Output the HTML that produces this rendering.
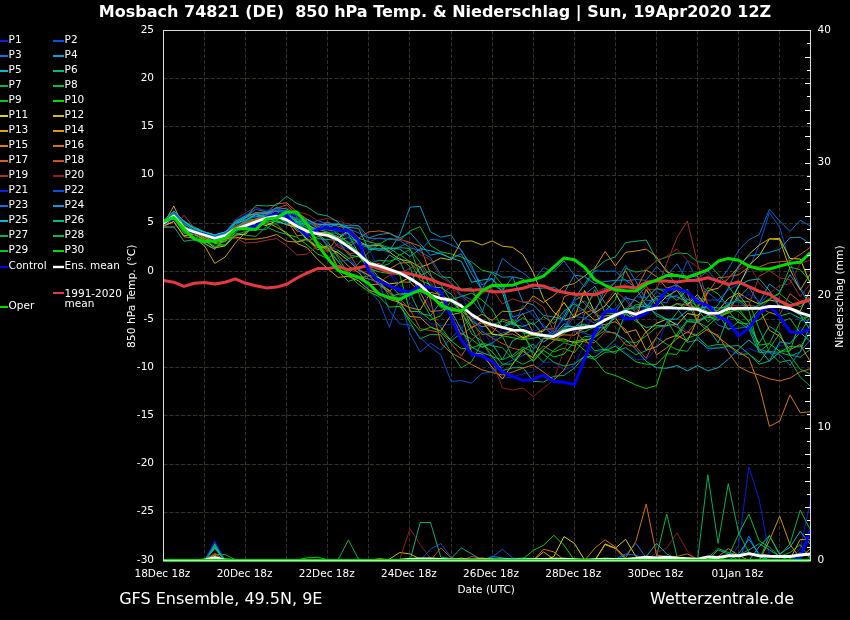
<!DOCTYPE html>
<html><head><meta charset="utf-8"><title>GFS Ensemble</title>
<style>
html,body{margin:0;padding:0;background:#000;}
svg{display:block;will-change:transform;}
text{font-family:"DejaVu Sans","Liberation Sans",sans-serif;fill:#fff;}
</style></head><body>
<svg width="850" height="620" viewBox="0 0 850 620">
<rect width="850" height="620" fill="#000"/>
<defs><clipPath id="c"><rect x="161.5" y="30.5" width="651.0" height="533.0"/></clipPath></defs>
<path d="M204.50 30.5V560.5M245.50 30.5V560.5M286.50 30.5V560.5M327.50 30.5V560.5M368.50 30.5V560.5M409.50 30.5V560.5M451.50 30.5V560.5M492.50 30.5V560.5M533.50 30.5V560.5M574.50 30.5V560.5M615.50 30.5V560.5M656.50 30.5V560.5M697.50 30.5V560.5M738.50 30.5V560.5M779.50 30.5V560.5M163.5 512.50H810.5M163.5 464.50H810.5M163.5 415.50H810.5M163.5 367.50H810.5M163.5 319.50H810.5M163.5 271.50H810.5M163.5 223.50H810.5M163.5 175.50H810.5M163.5 126.50H810.5M163.5 78.50H810.5" stroke="#323227" stroke-width="1" stroke-dasharray="4 1.9" fill="none"/>
<g clip-path="url(#c)" fill="none" stroke-linejoin="round" stroke-linecap="butt">
<polyline points="163.5,221.6 173.8,213.1 184.0,222.8 194.3,228.8 204.6,232.9 214.8,236.7 225.1,234.5 235.4,229.6 245.7,223.7 255.9,220.3 266.2,217.5 276.5,215.3 286.7,216.2 297.0,224.9 307.3,223.3 317.5,223.9 327.8,222.2 338.1,245.3 348.4,248.9 358.6,251.5 368.9,270.3 379.2,269.5 389.4,272.5 399.7,289.3 410.0,303.2 420.2,315.8 430.5,323.4 440.8,325.6 451.1,324.1 461.3,325.6 471.6,356.7 481.9,350.8 492.1,369.6 502.4,378.3 512.7,376.9 522.9,373.9 533.2,371.8 543.5,362.5 553.8,361.9 564.0,370.0 574.3,365.8 584.6,344.3 594.8,352.6 605.1,350.0 615.4,344.0 625.6,352.5 635.9,359.7 646.2,359.6 656.5,348.5 666.7,321.3 677.0,323.0 687.3,331.1 697.5,334.6 707.8,350.7 718.1,346.8 728.3,350.2 738.6,354.2 748.9,348.6 759.2,352.3 769.4,353.1 779.7,346.0 790.0,343.5 800.2,327.3 810.5,334.6" stroke="#0a1ee6" stroke-width="0.95"/>
<polyline points="163.5,221.1 173.8,211.2 184.0,221.6 194.3,228.3 204.6,232.7 214.8,236.4 225.1,233.0 235.4,223.4 245.7,221.0 255.9,212.7 266.2,212.8 276.5,215.9 286.7,210.9 297.0,224.2 307.3,224.0 317.5,231.1 327.8,245.7 338.1,250.5 348.4,257.6 358.6,269.7 368.9,290.0 379.2,301.5 389.4,327.3 399.7,297.1 410.0,333.5 420.2,352.1 430.5,343.2 440.8,350.0 451.1,337.9 461.3,328.2 471.6,316.5 481.9,331.8 492.1,337.0 502.4,333.2 512.7,329.7 522.9,305.4 533.2,315.9 543.5,325.1 553.8,332.1 564.0,330.5 574.3,316.5 584.6,317.8 594.8,323.2 605.1,310.7 615.4,308.9 625.6,296.0 635.9,312.8 646.2,308.2 656.5,291.3 666.7,298.8 677.0,295.2 687.3,305.5 697.5,297.8 707.8,300.2 718.1,299.9 728.3,290.2 738.6,283.8 748.9,269.0 759.2,245.0 769.4,212.6 779.7,227.3 790.0,262.9 800.2,288.0 810.5,300.0" stroke="#0055e6" stroke-width="0.95"/>
<polyline points="163.5,223.2 173.8,216.0 184.0,230.1 194.3,231.8 204.6,235.8 214.8,240.1 225.1,238.7 235.4,231.4 245.7,227.7 255.9,222.0 266.2,221.7 276.5,214.9 286.7,221.8 297.0,221.4 307.3,225.5 317.5,220.4 327.8,224.3 338.1,235.1 348.4,232.7 358.6,244.8 368.9,247.5 379.2,248.8 389.4,252.5 399.7,246.7 410.0,242.3 420.2,251.8 430.5,257.6 440.8,274.6 451.1,282.7 461.3,295.3 471.6,299.8 481.9,312.8 492.1,284.8 502.4,258.3 512.7,266.8 522.9,272.9 533.2,280.9 543.5,267.7 553.8,271.5 564.0,260.9 574.3,275.3 584.6,286.7 594.8,270.8 605.1,271.3 615.4,271.0 625.6,280.9 635.9,279.5 646.2,280.3 656.5,266.6 666.7,275.9 677.0,263.8 687.3,280.8 697.5,278.8 707.8,271.0 718.1,282.2 728.3,269.0 738.6,250.3 748.9,239.8 759.2,234.6 769.4,209.4 779.7,221.0 790.0,231.4 800.2,220.3 810.5,226.2" stroke="#0078e6" stroke-width="0.95"/>
<polyline points="163.5,221.4 173.8,212.3 184.0,221.9 194.3,228.8 204.6,232.2 214.8,234.8 225.1,232.1 235.4,220.7 245.7,216.1 255.9,213.4 266.2,219.0 276.5,216.2 286.7,223.3 297.0,228.5 307.3,231.5 317.5,233.1 327.8,232.2 338.1,238.4 348.4,232.7 358.6,244.0 368.9,245.5 379.2,243.8 389.4,250.8 399.7,235.0 410.0,207.2 420.2,206.4 430.5,231.9 440.8,237.2 451.1,235.1 461.3,250.8 471.6,265.5 481.9,290.0 492.1,284.6 502.4,290.6 512.7,277.0 522.9,301.8 533.2,304.8 543.5,315.3 553.8,317.0 564.0,319.5 574.3,300.6 584.6,294.6 594.8,286.3 605.1,303.2 615.4,312.7 625.6,297.9 635.9,300.6 646.2,307.4 656.5,296.3 666.7,295.9 677.0,297.0 687.3,301.7 697.5,309.8 707.8,306.3 718.1,316.8 728.3,308.0 738.6,297.7 748.9,287.2 759.2,303.3 769.4,283.9 779.7,291.5 790.0,274.8 800.2,289.3 810.5,305.2" stroke="#00a0dc" stroke-width="0.95"/>
<polyline points="163.5,223.5 173.8,213.9 184.0,222.5 194.3,227.0 204.6,231.9 214.8,235.0 225.1,232.3 235.4,221.8 245.7,214.9 255.9,214.4 266.2,213.5 276.5,211.0 286.7,210.9 297.0,221.4 307.3,225.4 317.5,229.0 327.8,232.3 338.1,236.9 348.4,242.0 358.6,253.5 368.9,265.7 379.2,268.4 389.4,255.0 399.7,261.2 410.0,282.2 420.2,267.1 430.5,287.2 440.8,287.6 451.1,294.0 461.3,306.9 471.6,321.0 481.9,326.8 492.1,324.6 502.4,327.9 512.7,322.6 522.9,330.2 533.2,332.9 543.5,342.0 553.8,335.2 564.0,323.7 574.3,327.5 584.6,318.7 594.8,310.9 605.1,330.6 615.4,333.7 625.6,339.8 635.9,349.2 646.2,361.4 656.5,367.7 666.7,368.3 677.0,365.6 687.3,370.8 697.5,365.6 707.8,370.8 718.1,367.7 728.3,359.3 738.6,348.8 748.9,340.0 759.2,348.9 769.4,361.2 779.7,341.8 790.0,343.5 800.2,332.6 810.5,341.7" stroke="#00bed2" stroke-width="0.95"/>
<polyline points="163.5,221.0 173.8,211.1 184.0,220.9 194.3,228.0 204.6,233.1 214.8,235.0 225.1,232.5 235.4,222.8 245.7,217.0 255.9,209.2 266.2,212.0 276.5,210.7 286.7,212.4 297.0,220.6 307.3,231.2 317.5,238.7 327.8,239.5 338.1,240.5 348.4,254.6 358.6,256.8 368.9,264.7 379.2,278.2 389.4,284.3 399.7,295.2 410.0,293.0 420.2,313.6 430.5,315.6 440.8,302.0 451.1,311.1 461.3,303.7 471.6,327.8 481.9,347.4 492.1,343.5 502.4,359.8 512.7,340.6 522.9,336.0 533.2,348.6 543.5,338.4 553.8,333.2 564.0,316.3 574.3,299.0 584.6,284.2 594.8,269.2 605.1,260.7 615.4,256.8 625.6,242.6 635.9,241.3 646.2,240.0 656.5,259.4 666.7,270.0 677.0,287.4 687.3,302.9 697.5,321.7 707.8,327.7 718.1,343.0 728.3,315.9 738.6,319.8 748.9,326.4 759.2,343.1 769.4,326.3 779.7,333.1 790.0,355.0 800.2,357.2 810.5,349.2" stroke="#00b98c" stroke-width="0.95"/>
<polyline points="163.5,221.9 173.8,215.1 184.0,225.9 194.3,231.7 204.6,233.8 214.8,237.0 225.1,235.1 235.4,227.5 245.7,221.7 255.9,218.9 266.2,212.5 276.5,209.4 286.7,212.9 297.0,223.4 307.3,230.5 317.5,232.1 327.8,233.6 338.1,239.9 348.4,237.7 358.6,241.3 368.9,263.8 379.2,260.2 389.4,261.2 399.7,258.0 410.0,266.7 420.2,297.7 430.5,315.9 440.8,327.3 451.1,340.9 461.3,333.3 471.6,339.1 481.9,347.2 492.1,342.8 502.4,336.2 512.7,357.3 522.9,349.7 533.2,344.1 543.5,354.2 553.8,362.2 564.0,366.1 574.3,364.0 584.6,356.3 594.8,359.5 605.1,352.3 615.4,351.5 625.6,347.6 635.9,354.7 646.2,350.7 656.5,337.4 666.7,344.3 677.0,349.6 687.3,351.3 697.5,337.0 707.8,346.4 718.1,344.4 728.3,345.3 738.6,354.3 748.9,354.0 759.2,362.0 769.4,348.5 779.7,333.3 790.0,356.1 800.2,352.1 810.5,322.9" stroke="#00b955" stroke-width="0.95"/>
<polyline points="163.5,224.0 173.8,218.2 184.0,233.4 194.3,232.2 204.6,235.0 214.8,243.9 225.1,241.7 235.4,233.0 245.7,235.3 255.9,236.3 266.2,226.7 276.5,231.5 286.7,234.4 297.0,241.6 307.3,238.5 317.5,246.6 327.8,246.5 338.1,271.1 348.4,281.4 358.6,278.1 368.9,275.8 379.2,284.9 389.4,290.0 399.7,304.7 410.0,322.4 420.2,338.9 430.5,334.3 440.8,334.9 451.1,352.7 461.3,368.0 471.6,361.6 481.9,343.0 492.1,345.7 502.4,347.7 512.7,358.8 522.9,364.3 533.2,359.2 543.5,349.2 553.8,340.7 564.0,333.4 574.3,328.6 584.6,331.9 594.8,326.8 605.1,311.5 615.4,299.8 625.6,268.4 635.9,272.1 646.2,270.2 656.5,260.7 666.7,257.1 677.0,253.0 687.3,253.6 697.5,261.8 707.8,262.5 718.1,274.3 728.3,285.9 738.6,300.8 748.9,301.7 759.2,329.0 769.4,351.9 779.7,362.4 790.0,360.0 800.2,377.0 810.5,386.5" stroke="#00be46" stroke-width="0.95"/>
<polyline points="163.5,222.6 173.8,213.9 184.0,224.7 194.3,227.7 204.6,232.5 214.8,235.1 225.1,234.3 235.4,228.5 245.7,220.2 255.9,219.4 266.2,217.5 276.5,209.8 286.7,215.0 297.0,221.4 307.3,234.0 317.5,233.6 327.8,242.0 338.1,257.7 348.4,273.7 358.6,263.2 368.9,252.3 379.2,244.2 389.4,238.4 399.7,240.3 410.0,230.9 420.2,226.7 430.5,245.6 440.8,251.8 451.1,253.9 461.3,257.1 471.6,262.0 481.9,270.0 492.1,272.7 502.4,284.8 512.7,322.6 522.9,330.7 533.2,355.6 543.5,346.1 553.8,351.9 564.0,348.2 574.3,352.8 584.6,339.5 594.8,350.8 605.1,349.1 615.4,353.6 625.6,341.6 635.9,342.6 646.2,335.9 656.5,327.2 666.7,325.8 677.0,312.5 687.3,299.0 697.5,306.8 707.8,287.7 718.1,293.8 728.3,307.1 738.6,311.7 748.9,321.4 759.2,309.3 769.4,299.4 779.7,293.6 790.0,302.1 800.2,306.7 810.5,298.6" stroke="#00c823" stroke-width="0.95"/>
<polyline points="163.5,222.1 173.8,213.2 184.0,225.7 194.3,232.9 204.6,234.2 214.8,237.0 225.1,235.2 235.4,229.8 245.7,222.5 255.9,220.8 266.2,224.2 276.5,223.9 286.7,234.5 297.0,237.1 307.3,245.1 317.5,254.0 327.8,258.6 338.1,250.3 348.4,258.4 358.6,255.9 368.9,268.7 379.2,271.8 389.4,273.6 399.7,274.8 410.0,311.5 420.2,311.5 430.5,320.0 440.8,315.7 451.1,300.9 461.3,305.7 471.6,321.8 481.9,334.4 492.1,333.7 502.4,335.8 512.7,337.7 522.9,339.7 533.2,338.1 543.5,335.9 553.8,339.7 564.0,341.1 574.3,341.6 584.6,350.4 594.8,359.4 605.1,372.5 615.4,375.5 625.6,380.0 635.9,385.0 646.2,388.6 656.5,385.5 666.7,354.0 677.0,334.0 687.3,320.0 697.5,320.1 707.8,317.6 718.1,316.7 728.3,311.0 738.6,322.9 748.9,324.0 759.2,319.9 769.4,312.3 779.7,316.1 790.0,313.1 800.2,318.4 810.5,315.8" stroke="#00dc00" stroke-width="0.95"/>
<polyline points="163.5,226.2 173.8,221.5 184.0,235.9 194.3,233.8 204.6,240.4 214.8,247.8 225.1,245.9 235.4,235.1 245.7,234.1 255.9,222.4 266.2,225.6 276.5,220.6 286.7,224.7 297.0,227.6 307.3,239.7 317.5,247.6 327.8,247.9 338.1,252.7 348.4,260.6 358.6,270.0 368.9,275.3 379.2,277.7 389.4,283.9 399.7,282.5 410.0,277.3 420.2,287.7 430.5,297.7 440.8,302.6 451.1,300.4 461.3,305.1 471.6,315.8 481.9,320.9 492.1,334.4 502.4,335.2 512.7,330.2 522.9,337.9 533.2,333.3 543.5,331.1 553.8,317.3 564.0,302.4 574.3,317.8 584.6,290.6 594.8,312.8 605.1,305.9 615.4,293.0 625.6,311.2 635.9,318.9 646.2,331.9 656.5,323.4 666.7,319.0 677.0,325.0 687.3,313.5 697.5,315.4 707.8,305.5 718.1,313.2 728.3,305.4 738.6,286.6 748.9,265.4 759.2,255.8 769.4,238.9 779.7,238.6 790.0,258.5 800.2,259.0 810.5,284.2" stroke="#dcdc00" stroke-width="0.95"/>
<polyline points="163.5,222.1 173.8,215.7 184.0,229.5 194.3,231.7 204.6,238.4 214.8,242.5 225.1,240.9 235.4,231.4 245.7,226.6 255.9,220.9 266.2,218.0 276.5,215.9 286.7,215.6 297.0,217.8 307.3,223.2 317.5,232.9 327.8,232.7 338.1,238.4 348.4,230.2 358.6,241.3 368.9,246.2 379.2,245.2 389.4,252.0 399.7,259.4 410.0,261.4 420.2,267.3 430.5,263.4 440.8,258.0 451.1,260.0 461.3,241.4 471.6,240.9 481.9,245.0 492.1,241.0 502.4,246.2 512.7,247.3 522.9,254.6 533.2,272.4 543.5,298.6 553.8,312.2 564.0,320.0 574.3,316.9 584.6,311.4 594.8,320.4 605.1,316.0 615.4,314.6 625.6,311.3 635.9,318.2 646.2,289.3 656.5,306.2 666.7,296.4 677.0,290.3 687.3,304.7 697.5,294.6 707.8,308.7 718.1,310.6 728.3,298.4 738.6,292.9 748.9,299.4 759.2,304.1 769.4,300.1 779.7,301.9 790.0,307.5 800.2,311.2 810.5,289.0" stroke="#dcbe00" stroke-width="0.95"/>
<polyline points="163.5,224.0 173.8,206.0 184.0,228.0 194.3,238.0 204.6,246.0 214.8,263.4 225.1,257.0 235.4,243.0 245.7,232.0 255.9,228.0 266.2,222.0 276.5,227.2 286.7,232.8 297.0,243.4 307.3,247.7 317.5,259.4 327.8,268.8 338.1,277.4 348.4,276.2 358.6,280.9 368.9,290.0 379.2,293.7 389.4,299.4 399.7,302.4 410.0,316.5 420.2,317.4 430.5,327.0 440.8,330.9 451.1,314.8 461.3,312.5 471.6,353.2 481.9,353.9 492.1,367.2 502.4,379.0 512.7,364.1 522.9,351.2 533.2,357.8 543.5,338.2 553.8,339.1 564.0,339.0 574.3,343.0 584.6,341.0 594.8,336.7 605.1,326.3 615.4,317.9 625.6,332.7 635.9,329.7 646.2,350.2 656.5,346.7 666.7,339.0 677.0,335.0 687.3,341.2 697.5,319.5 707.8,290.7 718.1,288.2 728.3,278.6 738.6,267.0 748.9,254.5 759.2,245.1 769.4,238.8 779.7,239.8 790.0,269.2 800.2,290.0 810.5,273.6" stroke="#dcaa00" stroke-width="0.95"/>
<polyline points="163.5,225.7 173.8,221.4 184.0,236.8 194.3,237.9 204.6,243.6 214.8,249.4 225.1,239.0 235.4,237.0 245.7,239.2 255.9,239.1 266.2,237.6 276.5,234.5 286.7,241.2 297.0,242.2 307.3,239.4 317.5,250.0 327.8,245.2 338.1,255.4 348.4,266.3 358.6,272.5 368.9,284.8 379.2,284.1 389.4,292.8 399.7,303.2 410.0,307.7 420.2,309.9 430.5,292.3 440.8,294.6 451.1,301.0 461.3,310.3 471.6,320.0 481.9,314.1 492.1,320.4 502.4,311.3 512.7,311.7 522.9,309.0 533.2,295.8 543.5,302.5 553.8,295.5 564.0,286.0 574.3,283.6 584.6,276.0 594.8,268.1 605.1,251.5 615.4,265.9 625.6,252.3 635.9,251.0 646.2,249.1 656.5,256.8 666.7,272.0 677.0,275.2 687.3,276.4 697.5,276.0 707.8,305.8 718.1,317.6 728.3,312.6 738.6,294.2 748.9,308.4 759.2,307.8 769.4,330.2 779.7,336.4 790.0,349.7 800.2,344.5 810.5,362.0" stroke="#e19600" stroke-width="0.95"/>
<polyline points="163.5,223.9 173.8,215.5 184.0,226.3 194.3,231.7 204.6,233.5 214.8,235.8 225.1,233.6 235.4,225.4 245.7,217.9 255.9,212.5 266.2,213.2 276.5,210.9 286.7,219.1 297.0,231.0 307.3,233.0 317.5,233.1 327.8,246.8 338.1,267.6 348.4,276.8 358.6,276.5 368.9,279.0 379.2,282.4 389.4,291.2 399.7,282.0 410.0,282.2 420.2,292.4 430.5,311.5 440.8,310.6 451.1,306.9 461.3,312.1 471.6,328.2 481.9,321.0 492.1,333.2 502.4,319.1 512.7,322.9 522.9,313.5 533.2,332.3 543.5,335.1 553.8,336.7 564.0,334.9 574.3,335.2 584.6,327.7 594.8,325.3 605.1,324.5 615.4,321.7 625.6,329.6 635.9,346.5 646.2,331.5 656.5,354.9 666.7,347.8 677.0,338.7 687.3,331.9 697.5,336.1 707.8,329.0 718.1,337.0 728.3,345.0 738.6,352.0 748.9,358.2 759.2,385.5 769.4,426.4 779.7,421.1 790.0,394.9 800.2,412.7 810.5,411.7" stroke="#e18200" stroke-width="0.95"/>
<polyline points="163.5,226.6 173.8,218.1 184.0,230.3 194.3,235.0 204.6,238.7 214.8,241.7 225.1,234.2 235.4,227.8 245.7,223.6 255.9,219.0 266.2,215.6 276.5,216.7 286.7,219.9 297.0,235.9 307.3,234.5 317.5,243.5 327.8,250.9 338.1,236.6 348.4,246.6 358.6,240.0 368.9,263.5 379.2,263.6 389.4,268.9 399.7,263.1 410.0,262.4 420.2,273.0 430.5,300.0 440.8,343.2 451.1,353.0 461.3,358.3 471.6,364.5 481.9,369.8 492.1,372.5 502.4,375.0 512.7,372.0 522.9,368.0 533.2,365.0 543.5,372.0 553.8,380.0 564.0,370.0 574.3,350.0 584.6,312.9 594.8,309.5 605.1,294.7 615.4,281.6 625.6,270.7 635.9,289.9 646.2,270.0 656.5,276.5 666.7,288.1 677.0,284.9 687.3,292.7 697.5,322.1 707.8,330.9 718.1,335.3 728.3,352.0 738.6,366.6 748.9,371.8 759.2,375.0 769.4,378.8 779.7,380.9 790.0,378.1 800.2,371.8 810.5,368.7" stroke="#dc730a" stroke-width="0.95"/>
<polyline points="163.5,221.9 173.8,214.3 184.0,229.5 194.3,230.3 204.6,233.2 214.8,237.0 225.1,233.4 235.4,226.8 245.7,221.6 255.9,213.2 266.2,212.8 276.5,203.7 286.7,202.9 297.0,212.0 307.3,219.4 317.5,226.8 327.8,222.1 338.1,226.3 348.4,227.9 358.6,237.9 368.9,231.9 379.2,230.9 389.4,233.0 399.7,239.3 410.0,242.4 420.2,246.2 430.5,273.9 440.8,300.0 451.1,314.7 461.3,335.1 471.6,327.0 481.9,323.0 492.1,327.4 502.4,334.7 512.7,334.0 522.9,338.8 533.2,334.8 543.5,329.4 553.8,328.7 564.0,296.9 574.3,292.2 584.6,303.8 594.8,313.9 605.1,318.7 615.4,317.3 625.6,312.1 635.9,297.2 646.2,286.3 656.5,299.1 666.7,308.7 677.0,303.3 687.3,305.4 697.5,307.7 707.8,293.2 718.1,277.7 728.3,276.8 738.6,274.6 748.9,267.0 759.2,267.0 769.4,262.9 779.7,261.8 790.0,260.8 800.2,254.5 810.5,247.2" stroke="#d76414" stroke-width="0.95"/>
<polyline points="163.5,222.2 173.8,213.7 184.0,228.2 194.3,232.5 204.6,234.2 214.8,237.0 225.1,235.4 235.4,228.5 245.7,222.7 255.9,219.4 266.2,216.0 276.5,208.4 286.7,204.9 297.0,215.0 307.3,219.2 317.5,225.3 327.8,233.3 338.1,246.9 348.4,252.0 358.6,269.0 368.9,275.2 379.2,285.4 389.4,292.6 399.7,298.7 410.0,309.3 420.2,328.7 430.5,330.5 440.8,332.6 451.1,343.2 461.3,356.2 471.6,339.9 481.9,331.5 492.1,337.9 502.4,343.5 512.7,348.3 522.9,350.5 533.2,361.3 543.5,349.0 553.8,340.8 564.0,331.4 574.3,329.5 584.6,342.2 594.8,342.6 605.1,332.0 615.4,332.9 625.6,344.8 635.9,346.7 646.2,358.4 656.5,336.8 666.7,322.4 677.0,327.0 687.3,333.2 697.5,320.6 707.8,315.3 718.1,315.7 728.3,312.3 738.6,308.8 748.9,305.3 759.2,307.2 769.4,312.6 779.7,314.8 790.0,293.8 800.2,301.6 810.5,297.9" stroke="#d24b23" stroke-width="0.95"/>
<polyline points="163.5,226.0 173.8,228.0 184.0,215.2 194.3,228.0 204.6,237.0 214.8,241.0 225.1,240.0 235.4,238.0 245.7,243.0 255.9,242.4 266.2,240.3 276.5,238.6 286.7,245.6 297.0,255.1 307.3,254.0 317.5,245.8 327.8,252.5 338.1,243.7 348.4,253.8 358.6,252.8 368.9,266.1 379.2,282.5 389.4,275.3 399.7,273.5 410.0,268.4 420.2,263.3 430.5,283.0 440.8,293.8 451.1,287.2 461.3,296.0 471.6,303.7 481.9,293.4 492.1,288.8 502.4,304.1 512.7,298.8 522.9,302.4 533.2,300.7 543.5,307.0 553.8,331.9 564.0,329.1 574.3,313.0 584.6,309.1 594.8,292.8 605.1,288.2 615.4,290.9 625.6,299.7 635.9,313.6 646.2,289.2 656.5,290.0 666.7,263.3 677.0,237.7 687.3,221.0 697.5,262.9 707.8,304.8 718.1,320.0 728.3,305.5 738.6,306.0 748.9,305.2 759.2,276.2 769.4,270.7 779.7,277.8 790.0,279.8 800.2,296.7 810.5,283.5" stroke="#ae2e2c" stroke-width="0.95"/>
<polyline points="163.5,223.6 173.8,218.6 184.0,231.8 194.3,232.5 204.6,234.7 214.8,235.7 225.1,233.4 235.4,219.5 245.7,212.7 255.9,207.4 266.2,210.9 276.5,209.4 286.7,208.0 297.0,212.0 307.3,214.1 317.5,220.5 327.8,218.4 338.1,220.9 348.4,224.1 358.6,226.4 368.9,242.2 379.2,237.7 389.4,239.8 399.7,238.2 410.0,244.8 420.2,254.5 430.5,259.7 440.8,277.5 451.1,283.2 461.3,314.0 471.6,317.1 481.9,341.1 492.1,360.0 502.4,388.0 512.7,390.0 522.9,388.0 533.2,396.4 543.5,388.0 553.8,380.0 564.0,350.0 574.3,330.0 584.6,328.8 594.8,316.5 605.1,304.9 615.4,288.5 625.6,284.2 635.9,278.0 646.2,268.4 656.5,261.2 666.7,256.1 677.0,249.0 687.3,260.1 697.5,266.9 707.8,274.7 718.1,283.4 728.3,278.8 738.6,269.3 748.9,264.1 759.2,282.9 769.4,293.3 779.7,285.6 790.0,283.7 800.2,263.5 810.5,260.0" stroke="#981a22" stroke-width="0.95"/>
<polyline points="163.5,221.0 173.8,211.6 184.0,222.8 194.3,230.5 204.6,233.4 214.8,235.9 225.1,232.4 235.4,220.8 245.7,214.7 255.9,209.2 266.2,210.3 276.5,209.8 286.7,213.2 297.0,218.1 307.3,219.8 317.5,228.2 327.8,223.6 338.1,227.1 348.4,239.0 358.6,246.0 368.9,249.8 379.2,267.8 389.4,270.6 399.7,284.1 410.0,298.1 420.2,286.1 430.5,306.6 440.8,313.8 451.1,307.0 461.3,293.9 471.6,317.5 481.9,328.8 492.1,345.2 502.4,326.9 512.7,316.4 522.9,324.6 533.2,331.9 543.5,326.5 553.8,336.7 564.0,313.0 574.3,299.8 584.6,318.8 594.8,330.7 605.1,320.5 615.4,318.0 625.6,312.4 635.9,316.2 646.2,305.0 656.5,306.5 666.7,310.0 677.0,309.1 687.3,308.2 697.5,308.7 707.8,307.7 718.1,313.5 728.3,302.8 738.6,299.6 748.9,294.4 759.2,301.0 769.4,308.4 779.7,306.8 790.0,313.0 800.2,320.7 810.5,320.9" stroke="#0a1ee6" stroke-width="0.95"/>
<polyline points="163.5,225.2 173.8,217.6 184.0,228.9 194.3,231.1 204.6,233.5 214.8,235.8 225.1,233.4 235.4,225.3 245.7,219.7 255.9,216.9 266.2,215.9 276.5,210.2 286.7,210.6 297.0,216.8 307.3,225.9 317.5,234.8 327.8,246.3 338.1,261.5 348.4,260.5 358.6,269.3 368.9,278.7 379.2,283.2 389.4,310.7 399.7,323.9 410.0,324.9 420.2,338.1 430.5,346.8 440.8,354.8 451.1,381.4 461.3,380.5 471.6,383.1 481.9,373.4 492.1,372.0 502.4,365.0 512.7,360.0 522.9,355.4 533.2,349.9 543.5,337.7 553.8,330.3 564.0,318.9 574.3,331.2 584.6,333.3 594.8,336.6 605.1,319.0 615.4,314.2 625.6,309.2 635.9,296.7 646.2,297.5 656.5,288.8 666.7,289.7 677.0,284.3 687.3,260.7 697.5,280.8 707.8,292.2 718.1,300.9 728.3,303.0 738.6,301.8 748.9,309.4 759.2,304.4 769.4,293.7 779.7,307.3 790.0,308.5 800.2,314.0 810.5,324.6" stroke="#0055e6" stroke-width="0.95"/>
<polyline points="163.5,223.5 173.8,215.3 184.0,227.3 194.3,229.9 204.6,234.2 214.8,237.1 225.1,234.4 235.4,229.5 245.7,222.7 255.9,213.2 266.2,212.1 276.5,207.8 286.7,213.8 297.0,219.5 307.3,229.7 317.5,229.4 327.8,223.9 338.1,223.6 348.4,228.8 358.6,232.9 368.9,238.2 379.2,238.6 389.4,239.3 399.7,240.3 410.0,247.7 420.2,250.8 430.5,239.3 440.8,240.3 451.1,244.9 461.3,249.7 471.6,268.6 481.9,285.0 492.1,278.9 502.4,288.5 512.7,317.0 522.9,314.1 533.2,310.1 543.5,327.3 553.8,334.9 564.0,329.8 574.3,306.9 584.6,300.9 594.8,312.2 605.1,288.5 615.4,282.6 625.6,265.3 635.9,281.1 646.2,300.2 656.5,300.9 666.7,302.9 677.0,285.2 687.3,299.9 697.5,297.9 707.8,313.3 718.1,325.0 728.3,328.5 738.6,328.3 748.9,326.4 759.2,349.2 769.4,352.4 779.7,354.6 790.0,365.3 800.2,351.5 810.5,339.9" stroke="#0078e6" stroke-width="0.95"/>
<polyline points="163.5,222.3 173.8,213.8 184.0,223.4 194.3,230.5 204.6,234.4 214.8,237.4 225.1,233.6 235.4,221.0 245.7,217.1 255.9,216.8 266.2,214.8 276.5,207.5 286.7,209.0 297.0,215.3 307.3,221.3 317.5,227.9 327.8,227.7 338.1,224.0 348.4,225.8 358.6,225.6 368.9,237.8 379.2,234.5 389.4,233.3 399.7,237.9 410.0,232.6 420.2,244.0 430.5,255.2 440.8,252.8 451.1,258.7 461.3,253.8 471.6,273.8 481.9,289.9 492.1,271.7 502.4,277.2 512.7,276.8 522.9,279.0 533.2,288.6 543.5,288.1 553.8,287.2 564.0,292.9 574.3,275.2 584.6,276.6 594.8,283.6 605.1,281.5 615.4,280.4 625.6,279.8 635.9,288.1 646.2,305.3 656.5,308.5 666.7,306.1 677.0,308.3 687.3,321.6 697.5,322.0 707.8,315.2 718.1,304.8 728.3,288.2 738.6,265.6 748.9,256.0 759.2,254.5 769.4,252.4 779.7,249.3 790.0,237.7 800.2,237.3 810.5,244.0" stroke="#00a0dc" stroke-width="0.95"/>
<polyline points="163.5,221.0 173.8,211.0 184.0,221.3 194.3,228.6 204.6,232.0 214.8,235.2 225.1,231.9 235.4,223.4 245.7,219.9 255.9,214.8 266.2,217.2 276.5,222.1 286.7,224.2 297.0,222.4 307.3,219.6 317.5,224.3 327.8,224.8 338.1,224.5 348.4,227.4 358.6,228.4 368.9,249.6 379.2,248.9 389.4,248.1 399.7,249.0 410.0,256.4 420.2,248.7 430.5,250.8 440.8,253.9 451.1,258.1 461.3,261.3 471.6,282.2 481.9,280.1 492.1,278.6 502.4,292.1 512.7,324.6 522.9,326.4 533.2,322.8 543.5,335.2 553.8,337.7 564.0,326.4 574.3,326.7 584.6,324.1 594.8,327.6 605.1,327.9 615.4,314.8 625.6,310.0 635.9,306.8 646.2,306.6 656.5,313.5 666.7,319.2 677.0,319.1 687.3,310.8 697.5,309.0 707.8,306.3 718.1,308.1 728.3,306.7 738.6,285.5 748.9,280.3 759.2,278.9 769.4,290.6 779.7,306.8 790.0,309.3 800.2,315.0 810.5,330.2" stroke="#00bed2" stroke-width="0.95"/>
<polyline points="163.5,227.5 173.8,226.7 184.0,241.2 194.3,239.8 204.6,243.3 214.8,248.7 225.1,238.2 235.4,222.7 245.7,217.8 255.9,205.4 266.2,206.0 276.5,205.0 286.7,196.3 297.0,203.6 307.3,207.0 317.5,214.0 327.8,216.0 338.1,222.0 348.4,234.0 358.6,253.5 368.9,269.7 379.2,280.1 389.4,296.6 399.7,293.8 410.0,293.4 420.2,291.4 430.5,295.2 440.8,307.6 451.1,311.0 461.3,329.5 471.6,347.2 481.9,352.6 492.1,356.2 502.4,370.6 512.7,367.8 522.9,367.6 533.2,381.3 543.5,382.0 553.8,376.3 564.0,375.4 574.3,368.1 584.6,356.2 594.8,356.8 605.1,349.3 615.4,339.1 625.6,313.0 635.9,321.4 646.2,327.6 656.5,325.5 666.7,325.6 677.0,324.2 687.3,342.3 697.5,339.9 707.8,348.2 718.1,348.2 728.3,346.3 738.6,345.5 748.9,354.1 759.2,364.2 769.4,361.1 779.7,352.0 790.0,346.6 800.2,346.9 810.5,332.4" stroke="#00b98c" stroke-width="0.95"/>
<polyline points="163.5,223.7 173.8,217.4 184.0,232.6 194.3,236.8 204.6,239.8 214.8,246.4 225.1,244.6 235.4,235.0 245.7,231.3 255.9,229.8 266.2,229.2 276.5,220.0 286.7,215.9 297.0,221.6 307.3,227.6 317.5,229.1 327.8,229.9 338.1,231.1 348.4,230.6 358.6,241.2 368.9,247.8 379.2,250.7 389.4,248.3 399.7,247.6 410.0,248.5 420.2,275.6 430.5,270.7 440.8,276.9 451.1,277.6 461.3,289.5 471.6,287.9 481.9,310.5 492.1,324.7 502.4,321.2 512.7,324.6 522.9,317.7 533.2,325.0 543.5,316.6 553.8,323.6 564.0,311.1 574.3,303.9 584.6,311.1 594.8,289.6 605.1,313.0 615.4,313.7 625.6,311.2 635.9,304.8 646.2,303.8 656.5,315.8 666.7,319.8 677.0,337.2 687.3,321.5 697.5,322.7 707.8,315.7 718.1,320.6 728.3,309.9 738.6,309.9 748.9,310.3 759.2,351.6 769.4,343.6 779.7,322.8 790.0,318.3 800.2,333.1 810.5,316.1" stroke="#00b955" stroke-width="0.95"/>
<polyline points="163.5,223.4 173.8,218.5 184.0,227.9 194.3,230.9 204.6,234.2 214.8,238.2 225.1,235.4 235.4,231.1 245.7,225.3 255.9,222.4 266.2,218.3 276.5,218.6 286.7,219.4 297.0,227.9 307.3,241.2 317.5,236.8 327.8,233.9 338.1,238.8 348.4,243.8 358.6,238.2 368.9,241.8 379.2,244.3 389.4,248.0 399.7,255.2 410.0,249.3 420.2,262.5 430.5,276.2 440.8,284.8 451.1,301.4 461.3,311.1 471.6,333.8 481.9,341.1 492.1,356.9 502.4,359.7 512.7,355.2 522.9,347.1 533.2,352.0 543.5,362.1 553.8,350.1 564.0,342.8 574.3,345.8 584.6,336.4 594.8,337.2 605.1,330.4 615.4,315.7 625.6,308.6 635.9,308.9 646.2,299.0 656.5,288.0 666.7,292.7 677.0,300.5 687.3,289.2 697.5,309.2 707.8,322.2 718.1,313.2 728.3,329.9 738.6,321.7 748.9,329.3 759.2,352.7 769.4,351.6 779.7,352.3 790.0,355.6 800.2,369.2 810.5,374.1" stroke="#00be46" stroke-width="0.95"/>
<polyline points="163.5,221.9 173.8,214.6 184.0,229.3 194.3,233.7 204.6,236.7 214.8,241.9 225.1,234.7 235.4,229.2 245.7,227.4 255.9,227.0 266.2,221.8 276.5,221.2 286.7,220.9 297.0,218.8 307.3,225.5 317.5,233.6 327.8,233.1 338.1,233.1 348.4,243.6 358.6,252.3 368.9,260.5 379.2,267.2 389.4,263.6 399.7,254.4 410.0,261.9 420.2,280.2 430.5,284.8 440.8,297.9 451.1,299.6 461.3,296.5 471.6,293.1 481.9,300.0 492.1,309.3 502.4,328.0 512.7,319.7 522.9,332.7 533.2,335.5 543.5,335.3 553.8,336.7 564.0,328.2 574.3,328.4 584.6,325.5 594.8,325.6 605.1,319.8 615.4,313.1 625.6,314.5 635.9,319.3 646.2,310.7 656.5,297.8 666.7,308.8 677.0,303.8 687.3,308.2 697.5,307.1 707.8,311.2 718.1,310.3 728.3,304.5 738.6,299.6 748.9,308.3 759.2,305.7 769.4,298.7 779.7,292.9 790.0,267.2 800.2,269.6 810.5,281.8" stroke="#00c823" stroke-width="0.95"/>
<polyline points="163.5,223.6 173.8,218.3 184.0,227.5 194.3,230.9 204.6,235.5 214.8,243.3 225.1,245.5 235.4,232.3 245.7,225.1 255.9,221.2 266.2,217.9 276.5,216.8 286.7,219.1 297.0,229.3 307.3,230.4 317.5,241.5 327.8,249.4 338.1,261.6 348.4,274.9 358.6,284.3 368.9,291.7 379.2,296.7 389.4,307.1 399.7,306.4 410.0,319.3 420.2,330.9 430.5,327.3 440.8,331.3 451.1,340.9 461.3,348.7 471.6,348.0 481.9,344.0 492.1,351.8 502.4,364.2 512.7,364.0 522.9,348.6 533.2,361.3 543.5,350.4 553.8,357.1 564.0,354.1 574.3,341.5 584.6,339.2 594.8,340.5 605.1,350.8 615.4,346.2 625.6,353.9 635.9,361.8 646.2,364.2 656.5,364.4 666.7,353.7 677.0,354.4 687.3,338.4 697.5,334.3 707.8,326.0 718.1,316.4 728.3,313.2 738.6,308.4 748.9,322.0 759.2,345.2 769.4,343.6 779.7,351.2 790.0,351.0 800.2,321.3 810.5,315.3" stroke="#00dc00" stroke-width="0.95"/>
<polyline points="163.5,560.5 173.8,560.5 184.0,560.5 194.3,560.5 204.6,560.5 214.8,541.2 225.1,560.5 235.4,560.5 245.7,560.5 255.9,560.5 266.2,560.5 276.5,560.5 286.7,560.5 297.0,560.5 307.3,560.5 317.5,560.5 327.8,560.5 338.1,560.5 348.4,560.5 358.6,560.5 368.9,560.5 379.2,560.5 389.4,560.5 399.7,560.5 410.0,560.5 420.2,560.5 430.5,560.5 440.8,560.5 451.1,560.5 461.3,560.5 471.6,560.5 481.9,560.5 492.1,560.5 502.4,560.5 512.7,560.5 522.9,560.5 533.2,560.5 543.5,560.5 553.8,560.5 564.0,560.5 574.3,560.5 584.6,560.5 594.8,560.5 605.1,560.5 615.4,560.5 625.6,560.5 635.9,560.5 646.2,560.5 656.5,560.5 666.7,560.5 677.0,560.5 687.3,560.5 697.5,560.5 707.8,560.5 718.1,560.5 728.3,560.5 738.6,545.4 748.9,467.1 759.2,499.7 769.4,555.2 779.7,560.5 790.0,559.2 800.2,548.6 810.5,500.9" stroke="#0a1ee6" stroke-width="0.95"/>
<polyline points="163.5,560.5 173.8,560.5 184.0,560.5 194.3,560.5 204.6,560.5 214.8,543.3 225.1,560.5 235.4,560.5 245.7,560.5 255.9,560.5 266.2,560.5 276.5,560.5 286.7,560.5 297.0,560.5 307.3,560.5 317.5,560.5 327.8,560.5 338.1,560.5 348.4,560.5 358.6,560.5 368.9,560.5 379.2,560.5 389.4,560.5 399.7,560.5 410.0,560.5 420.2,560.5 430.5,549.2 440.8,543.5 451.1,557.2 461.3,560.5 471.6,560.5 481.9,560.5 492.1,560.5 502.4,560.5 512.7,560.5 522.9,560.5 533.2,560.5 543.5,560.5 553.8,560.5 564.0,560.5 574.3,560.5 584.6,560.5 594.8,560.5 605.1,560.5 615.4,560.5 625.6,560.5 635.9,560.5 646.2,560.5 656.5,560.5 666.7,560.5 677.0,560.5 687.3,560.5 697.5,560.5 707.8,560.5 718.1,560.5 728.3,560.5 738.6,560.5 748.9,560.5 759.2,560.5 769.4,560.5 779.7,560.5 790.0,560.5 800.2,560.5 810.5,560.5" stroke="#0055e6" stroke-width="0.95"/>
<polyline points="163.5,560.5 173.8,560.5 184.0,560.5 194.3,560.5 204.6,560.5 214.8,544.6 225.1,560.5 235.4,560.5 245.7,560.5 255.9,560.5 266.2,560.5 276.5,560.5 286.7,560.5 297.0,560.5 307.3,560.5 317.5,560.5 327.8,560.5 338.1,560.5 348.4,560.5 358.6,560.5 368.9,560.5 379.2,560.5 389.4,560.5 399.7,560.5 410.0,560.5 420.2,560.5 430.5,560.5 440.8,560.5 451.1,560.5 461.3,560.5 471.6,560.5 481.9,560.5 492.1,560.5 502.4,560.5 512.7,560.5 522.9,560.5 533.2,560.5 543.5,560.5 553.8,560.5 564.0,560.5 574.3,560.5 584.6,560.5 594.8,560.5 605.1,560.5 615.4,560.5 625.6,555.2 635.9,543.4 646.2,557.9 656.5,560.5 666.7,560.5 677.0,560.5 687.3,560.5 697.5,560.5 707.8,560.5 718.1,560.5 728.3,560.5 738.6,560.5 748.9,536.1 759.2,556.5 769.4,560.5 779.7,560.5 790.0,560.5 800.2,560.5 810.5,560.5" stroke="#0078e6" stroke-width="0.95"/>
<polyline points="163.5,560.5 173.8,560.5 184.0,560.5 194.3,560.5 204.6,560.5 214.8,545.9 225.1,560.5 235.4,560.5 245.7,560.5 255.9,560.5 266.2,560.5 276.5,560.5 286.7,560.5 297.0,560.5 307.3,560.5 317.5,560.5 327.8,560.5 338.1,560.5 348.4,560.5 358.6,560.5 368.9,560.5 379.2,560.5 389.4,560.5 399.7,560.5 410.0,560.5 420.2,560.5 430.5,560.5 440.8,560.5 451.1,560.5 461.3,560.5 471.6,560.5 481.9,560.5 492.1,556.5 502.4,557.9 512.7,559.2 522.9,557.9 533.2,559.2 543.5,560.5 553.8,560.5 564.0,560.5 574.3,560.5 584.6,560.5 594.8,560.5 605.1,560.5 615.4,560.5 625.6,560.5 635.9,560.5 646.2,560.5 656.5,560.5 666.7,560.5 677.0,560.5 687.3,560.5 697.5,560.5 707.8,560.5 718.1,560.5 728.3,560.5 738.6,560.5 748.9,560.5 759.2,560.5 769.4,560.5 779.7,560.5 790.0,560.5 800.2,560.5 810.5,560.5" stroke="#00a0dc" stroke-width="0.95"/>
<polyline points="163.5,560.5 173.8,560.5 184.0,560.5 194.3,560.5 204.6,560.5 214.8,547.2 225.1,560.5 235.4,560.5 245.7,560.5 255.9,560.5 266.2,560.5 276.5,560.5 286.7,560.5 297.0,560.5 307.3,560.5 317.5,560.5 327.8,560.5 338.1,560.5 348.4,560.5 358.6,560.5 368.9,560.5 379.2,560.5 389.4,560.5 399.7,560.5 410.0,560.5 420.2,560.5 430.5,560.5 440.8,560.5 451.1,560.5 461.3,560.5 471.6,560.5 481.9,560.5 492.1,560.5 502.4,560.5 512.7,560.5 522.9,560.5 533.2,560.5 543.5,560.5 553.8,560.5 564.0,560.5 574.3,560.5 584.6,560.5 594.8,560.5 605.1,560.5 615.4,560.5 625.6,560.5 635.9,560.5 646.2,556.5 656.5,543.4 666.7,553.9 677.0,559.2 687.3,560.5 697.5,560.5 707.8,560.5 718.1,560.5 728.3,560.5 738.6,560.5 748.9,560.5 759.2,546.7 769.4,535.7 779.7,553.9 790.0,547.2 800.2,531.4 810.5,544.6" stroke="#00bed2" stroke-width="0.95"/>
<polyline points="163.5,560.5 173.8,560.5 184.0,560.5 194.3,560.5 204.6,560.5 214.8,543.9 225.1,560.5 235.4,560.5 245.7,560.5 255.9,560.5 266.2,560.5 276.5,560.5 286.7,560.5 297.0,560.5 307.3,560.5 317.5,560.5 327.8,560.5 338.1,560.5 348.4,560.5 358.6,560.5 368.9,560.5 379.2,560.5 389.4,560.5 399.7,560.5 410.0,560.5 420.2,522.5 430.5,522.5 440.8,557.2 451.1,558.5 461.3,547.9 471.6,553.9 481.9,559.8 492.1,560.5 502.4,560.5 512.7,560.5 522.9,560.5 533.2,560.5 543.5,560.5 553.8,560.5 564.0,560.5 574.3,560.5 584.6,560.5 594.8,560.5 605.1,560.5 615.4,560.5 625.6,560.5 635.9,560.5 646.2,560.5 656.5,560.5 666.7,560.5 677.0,560.5 687.3,560.5 697.5,560.5 707.8,560.5 718.1,560.5 728.3,560.5 738.6,560.5 748.9,560.5 759.2,560.5 769.4,560.5 779.7,560.5 790.0,560.5 800.2,560.5 810.5,560.5" stroke="#00b98c" stroke-width="0.95"/>
<polyline points="163.5,560.5 173.8,560.5 184.0,560.5 194.3,560.5 204.6,560.5 214.8,545.3 225.1,560.5 235.4,560.5 245.7,560.5 255.9,560.5 266.2,560.5 276.5,560.5 286.7,560.5 297.0,560.5 307.3,560.5 317.5,560.5 327.8,560.5 338.1,560.5 348.4,560.5 358.6,560.5 368.9,560.5 379.2,560.5 389.4,560.5 399.7,560.5 410.0,560.5 420.2,560.5 430.5,560.5 440.8,560.5 451.1,560.5 461.3,560.5 471.6,560.5 481.9,560.5 492.1,560.5 502.4,560.5 512.7,560.5 522.9,560.5 533.2,560.5 543.5,560.5 553.8,560.5 564.0,560.5 574.3,560.5 584.6,560.5 594.8,560.5 605.1,560.5 615.4,560.5 625.6,560.5 635.9,560.5 646.2,560.5 656.5,560.5 666.7,560.5 677.0,560.5 687.3,560.5 697.5,560.5 707.8,474.8 718.1,543.4 728.3,483.6 738.6,532.9 748.9,552.5 759.2,556.5 769.4,560.5 779.7,560.5 790.0,560.5 800.2,560.5 810.5,560.5" stroke="#00b955" stroke-width="0.95"/>
<polyline points="163.5,560.5 173.8,560.5 184.0,560.5 194.3,560.5 204.6,560.5 214.8,544.6 225.1,560.5 235.4,560.5 245.7,560.5 255.9,560.5 266.2,560.5 276.5,560.5 286.7,560.5 297.0,560.5 307.3,560.5 317.5,560.5 327.8,560.5 338.1,560.5 348.4,560.5 358.6,560.5 368.9,560.5 379.2,560.5 389.4,560.5 399.7,560.5 410.0,560.5 420.2,560.5 430.5,560.5 440.8,560.5 451.1,560.5 461.3,560.5 471.6,560.5 481.9,560.5 492.1,560.5 502.4,560.5 512.7,560.5 522.9,560.5 533.2,560.5 543.5,560.5 553.8,560.5 564.0,560.5 574.3,560.5 584.6,560.5 594.8,560.5 605.1,560.5 615.4,560.5 625.6,560.5 635.9,560.5 646.2,560.5 656.5,556.5 666.7,514.1 677.0,556.5 687.3,560.5 697.5,560.5 707.8,560.5 718.1,560.5 728.3,560.5 738.6,560.5 748.9,560.5 759.2,560.5 769.4,560.5 779.7,560.5 790.0,560.5 800.2,560.5 810.5,560.5" stroke="#00be46" stroke-width="0.95"/>
<polyline points="163.5,560.5 173.8,560.5 184.0,560.5 194.3,560.5 204.6,560.5 214.8,554.5 225.1,554.5 235.4,559.8 245.7,560.5 255.9,560.5 266.2,560.5 276.5,560.5 286.7,560.5 297.0,560.5 307.3,560.5 317.5,560.5 327.8,560.5 338.1,560.5 348.4,560.5 358.6,560.5 368.9,560.5 379.2,560.5 389.4,560.5 399.7,560.5 410.0,560.5 420.2,560.5 430.5,560.5 440.8,560.5 451.1,560.5 461.3,560.5 471.6,560.5 481.9,560.5 492.1,560.5 502.4,560.5 512.7,560.5 522.9,560.5 533.2,560.5 543.5,560.5 553.8,560.5 564.0,560.5 574.3,560.5 584.6,560.5 594.8,560.5 605.1,560.5 615.4,560.5 625.6,560.5 635.9,560.5 646.2,560.5 656.5,560.5 666.7,560.5 677.0,560.5 687.3,560.5 697.5,560.5 707.8,560.5 718.1,560.5 728.3,556.5 738.6,534.0 748.9,514.1 759.2,540.9 769.4,547.2 779.7,556.5 790.0,552.5 800.2,544.6 810.5,559.2" stroke="#00c823" stroke-width="0.95"/>
<polyline points="163.5,560.5 173.8,560.5 184.0,560.5 194.3,560.5 204.6,560.5 214.8,560.5 225.1,560.5 235.4,560.5 245.7,560.5 255.9,560.5 266.2,560.5 276.5,560.5 286.7,560.5 297.0,559.8 307.3,557.9 317.5,557.2 327.8,559.8 338.1,560.5 348.4,560.5 358.6,560.5 368.9,560.5 379.2,560.5 389.4,560.5 399.7,560.5 410.0,560.5 420.2,560.5 430.5,560.5 440.8,560.5 451.1,560.5 461.3,560.5 471.6,560.5 481.9,560.5 492.1,560.5 502.4,560.5 512.7,560.5 522.9,559.2 533.2,550.4 543.5,545.3 553.8,535.3 564.0,545.3 574.3,559.8 584.6,560.5 594.8,560.5 605.1,560.5 615.4,560.5 625.6,560.5 635.9,560.5 646.2,560.5 656.5,560.5 666.7,560.5 677.0,560.5 687.3,560.5 697.5,560.5 707.8,560.5 718.1,560.5 728.3,560.5 738.6,560.5 748.9,560.5 759.2,560.5 769.4,560.5 779.7,560.5 790.0,560.5 800.2,560.5 810.5,560.5" stroke="#00dc00" stroke-width="0.95"/>
<polyline points="163.5,560.5 173.8,560.5 184.0,560.5 194.3,560.5 204.6,560.5 214.8,560.5 225.1,560.5 235.4,560.5 245.7,560.5 255.9,560.5 266.2,560.5 276.5,560.5 286.7,560.5 297.0,560.5 307.3,560.5 317.5,560.5 327.8,560.5 338.1,560.5 348.4,560.5 358.6,560.5 368.9,560.5 379.2,560.5 389.4,560.5 399.7,560.5 410.0,560.5 420.2,560.5 430.5,560.5 440.8,560.5 451.1,560.5 461.3,560.5 471.6,560.5 481.9,560.5 492.1,560.5 502.4,560.5 512.7,560.5 522.9,560.5 533.2,560.5 543.5,560.5 553.8,556.5 564.0,536.6 574.3,543.3 584.6,559.8 594.8,560.5 605.1,543.9 615.4,548.2 625.6,539.3 635.9,556.5 646.2,560.5 656.5,560.5 666.7,560.5 677.0,560.5 687.3,560.5 697.5,560.5 707.8,560.5 718.1,560.5 728.3,560.5 738.6,560.5 748.9,560.5 759.2,560.5 769.4,560.5 779.7,560.5 790.0,560.5 800.2,560.5 810.5,560.5" stroke="#dcdc00" stroke-width="0.95"/>
<polyline points="163.5,560.5 173.8,560.5 184.0,560.5 194.3,560.5 204.6,560.5 214.8,560.5 225.1,560.5 235.4,560.5 245.7,560.5 255.9,560.5 266.2,560.5 276.5,560.5 286.7,560.5 297.0,560.5 307.3,560.5 317.5,560.5 327.8,560.5 338.1,560.5 348.4,560.5 358.6,560.5 368.9,560.5 379.2,560.5 389.4,559.2 399.7,552.5 410.0,553.9 420.2,559.2 430.5,560.5 440.8,560.5 451.1,560.5 461.3,560.5 471.6,560.5 481.9,560.5 492.1,560.5 502.4,560.5 512.7,560.5 522.9,560.5 533.2,560.5 543.5,560.5 553.8,560.5 564.0,560.5 574.3,560.5 584.6,560.5 594.8,560.5 605.1,560.5 615.4,560.5 625.6,560.5 635.9,560.5 646.2,560.5 656.5,560.5 666.7,560.5 677.0,560.5 687.3,560.5 697.5,560.5 707.8,560.5 718.1,560.5 728.3,560.5 738.6,560.5 748.9,560.5 759.2,560.5 769.4,560.5 779.7,560.5 790.0,560.5 800.2,560.5 810.5,560.5" stroke="#dcbe00" stroke-width="0.95"/>
<polyline points="163.5,560.5 173.8,560.5 184.0,560.5 194.3,560.5 204.6,560.5 214.8,560.5 225.1,560.5 235.4,560.5 245.7,560.5 255.9,560.5 266.2,560.5 276.5,560.5 286.7,560.5 297.0,560.5 307.3,560.5 317.5,560.5 327.8,560.5 338.1,560.5 348.4,560.5 358.6,560.5 368.9,560.5 379.2,560.5 389.4,560.5 399.7,560.5 410.0,560.5 420.2,560.5 430.5,560.5 440.8,560.5 451.1,560.5 461.3,560.5 471.6,560.5 481.9,560.5 492.1,560.5 502.4,560.5 512.7,560.5 522.9,560.5 533.2,560.5 543.5,551.9 553.8,559.2 564.0,560.5 574.3,560.5 584.6,560.5 594.8,560.5 605.1,544.6 615.4,548.6 625.6,559.2 635.9,560.5 646.2,560.5 656.5,560.5 666.7,560.5 677.0,560.5 687.3,560.5 697.5,560.5 707.8,560.5 718.1,560.5 728.3,560.5 738.6,560.5 748.9,560.5 759.2,560.5 769.4,560.5 779.7,560.5 790.0,559.2 800.2,539.6 810.5,539.6" stroke="#dcaa00" stroke-width="0.95"/>
<polyline points="163.5,560.5 173.8,560.5 184.0,560.5 194.3,559.8 204.6,558.9 214.8,555.2 225.1,560.5 235.4,560.5 245.7,560.5 255.9,560.5 266.2,560.5 276.5,560.5 286.7,560.5 297.0,560.5 307.3,560.5 317.5,560.5 327.8,560.5 338.1,560.5 348.4,560.5 358.6,560.5 368.9,560.5 379.2,560.5 389.4,560.5 399.7,560.5 410.0,560.5 420.2,560.5 430.5,560.5 440.8,560.5 451.1,560.5 461.3,560.5 471.6,560.5 481.9,560.5 492.1,560.5 502.4,560.5 512.7,560.5 522.9,560.5 533.2,560.5 543.5,560.5 553.8,560.5 564.0,560.5 574.3,560.5 584.6,560.5 594.8,560.5 605.1,560.5 615.4,560.5 625.6,560.5 635.9,560.5 646.2,560.5 656.5,560.5 666.7,560.5 677.0,560.5 687.3,560.5 697.5,560.5 707.8,560.5 718.1,556.5 728.3,548.6 738.6,555.2 748.9,560.5 759.2,560.5 769.4,540.6 779.7,516.2 790.0,544.6 800.2,557.9 810.5,548.6" stroke="#e19600" stroke-width="0.95"/>
<polyline points="163.5,560.5 173.8,560.5 184.0,560.5 194.3,560.5 204.6,560.5 214.8,560.5 225.1,560.5 235.4,560.5 245.7,560.5 255.9,560.5 266.2,560.5 276.5,560.5 286.7,560.5 297.0,560.5 307.3,560.5 317.5,560.5 327.8,560.5 338.1,560.5 348.4,560.5 358.6,560.5 368.9,560.5 379.2,558.5 389.4,559.8 399.7,560.5 410.0,560.5 420.2,560.5 430.5,559.2 440.8,560.5 451.1,560.5 461.3,557.9 471.6,560.5 481.9,557.9 492.1,559.2 502.4,560.5 512.7,560.5 522.9,560.5 533.2,560.5 543.5,560.5 553.8,560.5 564.0,560.5 574.3,560.5 584.6,560.5 594.8,560.5 605.1,560.5 615.4,560.5 625.6,560.5 635.9,560.5 646.2,560.5 656.5,560.5 666.7,560.5 677.0,560.5 687.3,560.5 697.5,560.5 707.8,560.5 718.1,560.5 728.3,560.5 738.6,560.5 748.9,560.5 759.2,560.5 769.4,560.5 779.7,560.5 790.0,560.5 800.2,560.5 810.5,560.5" stroke="#e18200" stroke-width="0.95"/>
<polyline points="163.5,560.5 173.8,560.5 184.0,560.5 194.3,560.5 204.6,560.5 214.8,560.5 225.1,560.5 235.4,560.5 245.7,560.5 255.9,560.5 266.2,560.5 276.5,560.5 286.7,560.5 297.0,560.5 307.3,560.5 317.5,560.5 327.8,560.5 338.1,560.5 348.4,560.5 358.6,560.5 368.9,560.5 379.2,560.5 389.4,560.5 399.7,560.5 410.0,560.5 420.2,560.5 430.5,560.5 440.8,560.5 451.1,560.5 461.3,560.5 471.6,560.5 481.9,560.5 492.1,560.5 502.4,560.5 512.7,560.5 522.9,560.5 533.2,560.5 543.5,549.2 553.8,551.9 564.0,559.8 574.3,560.5 584.6,560.5 594.8,548.2 605.1,539.8 615.4,547.2 625.6,557.9 635.9,541.3 646.2,503.9 656.5,555.2 666.7,556.5 677.0,556.5 687.3,553.9 697.5,559.2 707.8,560.5 718.1,560.5 728.3,560.5 738.6,560.5 748.9,560.5 759.2,560.5 769.4,560.5 779.7,560.5 790.0,560.5 800.2,560.5 810.5,560.5" stroke="#dc730a" stroke-width="0.95"/>
<polyline points="163.5,560.5 173.8,560.5 184.0,560.5 194.3,560.5 204.6,560.5 214.8,553.2 225.1,560.5 235.4,560.5 245.7,560.5 255.9,560.5 266.2,560.5 276.5,560.5 286.7,560.5 297.0,560.5 307.3,560.5 317.5,560.5 327.8,560.5 338.1,560.5 348.4,560.5 358.6,560.5 368.9,560.5 379.2,560.5 389.4,560.5 399.7,560.5 410.0,560.5 420.2,560.5 430.5,560.5 440.8,547.9 451.1,557.9 461.3,560.5 471.6,556.5 481.9,558.5 492.1,560.5 502.4,560.5 512.7,560.5 522.9,560.5 533.2,560.5 543.5,560.5 553.8,560.5 564.0,560.5 574.3,560.5 584.6,560.5 594.8,560.5 605.1,560.5 615.4,560.5 625.6,560.5 635.9,560.5 646.2,560.5 656.5,560.5 666.7,560.5 677.0,560.5 687.3,560.5 697.5,560.5 707.8,560.5 718.1,560.5 728.3,560.5 738.6,560.5 748.9,560.5 759.2,560.5 769.4,560.5 779.7,560.5 790.0,560.5 800.2,560.5 810.5,560.5" stroke="#d24b23" stroke-width="0.95"/>
<polyline points="163.5,560.5 173.8,560.5 184.0,560.5 194.3,560.5 204.6,560.5 214.8,560.5 225.1,560.5 235.4,560.5 245.7,560.5 255.9,560.5 266.2,560.5 276.5,560.5 286.7,560.5 297.0,560.5 307.3,560.5 317.5,560.5 327.8,560.5 338.1,560.5 348.4,560.5 358.6,560.5 368.9,560.5 379.2,560.5 389.4,560.5 399.7,559.8 410.0,528.7 420.2,544.6 430.5,558.5 440.8,558.5 451.1,558.5 461.3,560.5 471.6,560.5 481.9,560.5 492.1,560.5 502.4,560.5 512.7,560.5 522.9,560.5 533.2,560.5 543.5,560.5 553.8,560.5 564.0,560.5 574.3,560.5 584.6,560.5 594.8,560.5 605.1,560.5 615.4,560.5 625.6,560.5 635.9,560.5 646.2,560.5 656.5,552.5 666.7,548.2 677.0,532.9 687.3,551.0 697.5,560.5 707.8,560.5 718.1,560.5 728.3,560.5 738.6,560.5 748.9,560.5 759.2,560.5 769.4,560.5 779.7,560.5 790.0,560.5 800.2,560.5 810.5,560.5" stroke="#981a22" stroke-width="0.95"/>
<polyline points="163.5,560.5 173.8,560.5 184.0,560.5 194.3,560.5 204.6,560.5 214.8,542.0 225.1,560.5 235.4,560.5 245.7,560.5 255.9,560.5 266.2,560.5 276.5,560.5 286.7,560.5 297.0,560.5 307.3,560.5 317.5,560.5 327.8,560.5 338.1,560.5 348.4,560.5 358.6,560.5 368.9,560.5 379.2,560.5 389.4,560.5 399.7,560.5 410.0,560.5 420.2,560.5 430.5,560.5 440.8,560.5 451.1,560.5 461.3,560.5 471.6,560.5 481.9,560.5 492.1,560.5 502.4,560.5 512.7,560.5 522.9,560.5 533.2,560.5 543.5,560.5 553.8,560.5 564.0,560.5 574.3,560.5 584.6,560.5 594.8,560.5 605.1,560.5 615.4,560.5 625.6,560.5 635.9,560.5 646.2,560.5 656.5,560.5 666.7,560.5 677.0,560.5 687.3,560.5 697.5,560.5 707.8,560.5 718.1,560.5 728.3,560.5 738.6,560.5 748.9,560.5 759.2,560.5 769.4,560.5 779.7,560.5 790.0,560.5 800.2,560.5 810.5,560.5" stroke="#0a1ee6" stroke-width="0.95"/>
<polyline points="163.5,560.5 173.8,560.5 184.0,560.5 194.3,560.5 204.6,560.5 214.8,560.5 225.1,560.5 235.4,560.5 245.7,560.5 255.9,560.5 266.2,560.5 276.5,560.5 286.7,560.5 297.0,560.5 307.3,560.5 317.5,560.5 327.8,560.5 338.1,560.5 348.4,560.5 358.6,560.5 368.9,560.5 379.2,560.5 389.4,560.5 399.7,560.5 410.0,560.5 420.2,560.5 430.5,560.5 440.8,560.5 451.1,560.5 461.3,560.5 471.6,560.5 481.9,560.5 492.1,557.2 502.4,549.2 512.7,557.9 522.9,560.5 533.2,560.5 543.5,560.5 553.8,560.5 564.0,560.5 574.3,560.5 584.6,560.5 594.8,560.5 605.1,560.5 615.4,560.5 625.6,560.5 635.9,560.5 646.2,560.5 656.5,560.5 666.7,560.5 677.0,560.5 687.3,560.5 697.5,560.5 707.8,560.5 718.1,560.5 728.3,560.5 738.6,560.5 748.9,560.5 759.2,560.5 769.4,560.5 779.7,560.5 790.0,560.5 800.2,560.5 810.5,560.5" stroke="#0055e6" stroke-width="0.95"/>
<polyline points="163.5,560.5 173.8,560.5 184.0,560.5 194.3,560.5 204.6,560.5 214.8,560.5 225.1,560.5 235.4,560.5 245.7,560.5 255.9,560.5 266.2,560.5 276.5,560.5 286.7,560.5 297.0,560.5 307.3,560.5 317.5,560.5 327.8,560.5 338.1,560.5 348.4,560.5 358.6,560.5 368.9,560.5 379.2,560.5 389.4,560.5 399.7,560.5 410.0,560.5 420.2,560.5 430.5,560.5 440.8,560.5 451.1,560.5 461.3,560.5 471.6,560.5 481.9,560.5 492.1,560.5 502.4,560.5 512.7,560.5 522.9,560.5 533.2,560.5 543.5,560.5 553.8,560.5 564.0,560.5 574.3,560.5 584.6,560.5 594.8,560.5 605.1,560.5 615.4,559.2 625.6,553.9 635.9,555.2 646.2,559.2 656.5,560.5 666.7,560.5 677.0,560.5 687.3,560.5 697.5,560.5 707.8,560.5 718.1,560.5 728.3,560.5 738.6,560.5 748.9,560.5 759.2,560.5 769.4,560.5 779.7,560.5 790.0,560.5 800.2,560.5 810.5,560.5" stroke="#0078e6" stroke-width="0.95"/>
<polyline points="163.5,560.5 173.8,560.5 184.0,560.5 194.3,560.5 204.6,560.5 214.8,548.6 225.1,560.5 235.4,560.5 245.7,560.5 255.9,560.5 266.2,560.5 276.5,560.5 286.7,560.5 297.0,560.5 307.3,560.5 317.5,560.5 327.8,560.5 338.1,560.5 348.4,560.5 358.6,560.5 368.9,560.5 379.2,560.5 389.4,560.5 399.7,560.5 410.0,560.5 420.2,560.5 430.5,560.5 440.8,560.5 451.1,560.5 461.3,560.5 471.6,560.5 481.9,560.5 492.1,560.5 502.4,560.5 512.7,560.5 522.9,560.5 533.2,560.5 543.5,560.5 553.8,560.5 564.0,560.5 574.3,560.5 584.6,560.5 594.8,560.5 605.1,560.5 615.4,560.5 625.6,560.5 635.9,560.5 646.2,560.5 656.5,560.5 666.7,560.5 677.0,560.5 687.3,560.5 697.5,560.5 707.8,560.5 718.1,560.5 728.3,560.5 738.6,553.9 748.9,539.3 759.2,553.9 769.4,560.5 779.7,560.5 790.0,560.5 800.2,552.5 810.5,556.5" stroke="#00a0dc" stroke-width="0.95"/>
<polyline points="163.5,560.5 173.8,560.5 184.0,560.5 194.3,560.5 204.6,560.5 214.8,547.9 225.1,560.5 235.4,560.5 245.7,560.5 255.9,560.5 266.2,560.5 276.5,560.5 286.7,560.5 297.0,560.5 307.3,560.5 317.5,560.5 327.8,560.5 338.1,560.5 348.4,560.5 358.6,560.5 368.9,560.5 379.2,560.5 389.4,560.5 399.7,560.5 410.0,560.5 420.2,560.5 430.5,560.5 440.8,560.5 451.1,560.5 461.3,560.5 471.6,560.5 481.9,560.5 492.1,560.5 502.4,560.5 512.7,560.5 522.9,560.5 533.2,560.5 543.5,560.5 553.8,560.5 564.0,560.5 574.3,560.5 584.6,560.5 594.8,560.5 605.1,560.5 615.4,560.5 625.6,560.5 635.9,560.5 646.2,560.5 656.5,560.5 666.7,560.5 677.0,560.5 687.3,560.5 697.5,560.5 707.8,560.5 718.1,560.5 728.3,560.5 738.6,560.5 748.9,560.5 759.2,560.5 769.4,560.5 779.7,560.5 790.0,560.5 800.2,560.5 810.5,560.5" stroke="#00bed2" stroke-width="0.95"/>
<polyline points="163.5,560.5 173.8,560.5 184.0,560.5 194.3,560.5 204.6,560.5 214.8,560.5 225.1,560.5 235.4,560.5 245.7,560.5 255.9,560.5 266.2,560.5 276.5,560.5 286.7,560.5 297.0,560.5 307.3,560.5 317.5,560.5 327.8,560.5 338.1,560.5 348.4,560.5 358.6,560.5 368.9,560.5 379.2,560.5 389.4,560.5 399.7,560.5 410.0,560.5 420.2,560.5 430.5,560.5 440.8,560.5 451.1,560.5 461.3,560.5 471.6,560.5 481.9,560.5 492.1,560.5 502.4,560.5 512.7,560.5 522.9,560.5 533.2,560.5 543.5,560.5 553.8,560.5 564.0,560.5 574.3,560.5 584.6,560.5 594.8,560.5 605.1,560.5 615.4,560.5 625.6,560.5 635.9,560.5 646.2,560.5 656.5,560.5 666.7,560.5 677.0,560.5 687.3,560.5 697.5,560.5 707.8,557.9 718.1,548.6 728.3,552.5 738.6,555.2 748.9,549.9 759.2,543.7 769.4,549.9 779.7,556.5 790.0,560.5 800.2,560.5 810.5,560.5" stroke="#00b98c" stroke-width="0.95"/>
<polyline points="163.5,560.5 173.8,560.5 184.0,560.5 194.3,560.5 204.6,560.5 214.8,560.5 225.1,560.5 235.4,560.5 245.7,560.5 255.9,560.5 266.2,560.5 276.5,560.5 286.7,560.5 297.0,560.5 307.3,560.5 317.5,560.5 327.8,560.5 338.1,559.8 348.4,540.0 358.6,559.2 368.9,560.5 379.2,560.5 389.4,560.5 399.7,560.5 410.0,560.5 420.2,560.5 430.5,560.5 440.8,560.5 451.1,560.5 461.3,560.5 471.6,560.5 481.9,560.5 492.1,560.5 502.4,560.5 512.7,560.5 522.9,560.5 533.2,560.5 543.5,560.5 553.8,560.5 564.0,560.5 574.3,560.5 584.6,560.5 594.8,560.5 605.1,560.5 615.4,560.5 625.6,560.5 635.9,560.5 646.2,560.5 656.5,560.5 666.7,560.5 677.0,560.5 687.3,560.5 697.5,560.5 707.8,560.5 718.1,560.5 728.3,560.5 738.6,560.5 748.9,560.5 759.2,560.5 769.4,560.5 779.7,560.5 790.0,560.5 800.2,560.5 810.5,560.5" stroke="#00b955" stroke-width="0.95"/>
<polyline points="163.5,560.5 173.8,560.5 184.0,560.5 194.3,560.5 204.6,560.5 214.8,546.6 225.1,560.5 235.4,560.5 245.7,560.5 255.9,560.5 266.2,560.5 276.5,560.5 286.7,560.5 297.0,560.5 307.3,560.5 317.5,560.5 327.8,560.5 338.1,560.5 348.4,560.5 358.6,560.5 368.9,560.5 379.2,560.5 389.4,560.5 399.7,560.5 410.0,560.5 420.2,560.5 430.5,560.5 440.8,560.5 451.1,560.5 461.3,560.5 471.6,560.5 481.9,560.5 492.1,560.5 502.4,560.5 512.7,560.5 522.9,560.5 533.2,560.5 543.5,560.5 553.8,560.5 564.0,560.5 574.3,560.5 584.6,560.5 594.8,560.5 605.1,560.5 615.4,560.5 625.6,560.5 635.9,560.5 646.2,560.5 656.5,560.5 666.7,560.5 677.0,560.5 687.3,560.5 697.5,560.5 707.8,560.5 718.1,549.9 728.3,553.9 738.6,560.5 748.9,560.5 759.2,560.5 769.4,535.3 779.7,555.2 790.0,543.9 800.2,510.1 810.5,530.0" stroke="#00be46" stroke-width="0.95"/>
<polyline points="163.5,280.6 173.8,282.2 184.0,286.4 194.3,283.3 204.6,282.5 214.8,283.9 225.1,282.2 235.4,278.9 245.7,283.3 255.9,285.8 266.2,287.9 276.5,287.1 286.7,284.3 297.0,278.0 307.3,272.8 317.5,268.6 327.8,268.6 338.1,266.5 348.4,269.7 358.6,267.8 368.9,265.4 379.2,268.5 389.4,272.0 399.7,272.4 410.0,273.9 420.2,276.5 430.5,279.4 440.8,283.5 451.1,286.5 461.3,289.8 471.6,290.2 481.9,289.6 492.1,291.8 502.4,291.8 512.7,290.1 522.9,288.3 533.2,285.0 543.5,286.0 553.8,290.2 564.0,292.3 574.3,294.4 584.6,294.0 594.8,294.8 605.1,291.2 615.4,287.6 625.6,286.8 635.9,288.1 646.2,282.2 656.5,280.7 666.7,281.0 677.0,282.0 687.3,280.5 697.5,280.2 707.8,277.8 718.1,280.9 728.3,284.5 738.6,282.0 748.9,286.7 759.2,291.4 769.4,294.2 779.7,301.0 790.0,305.8 800.2,302.8 810.5,300.1" stroke="#e6383e" stroke-width="3.0"/>
<polyline points="163.5,222.6 173.8,218.5 184.0,228.5 194.3,232.6 204.6,234.4 214.8,239.1 225.1,236.8 235.4,230.3 245.7,226.8 255.9,226.2 266.2,217.4 276.5,213.8 286.7,215.6 297.0,226.8 307.3,236.2 317.5,229.1 327.8,227.9 338.1,230.0 348.4,230.9 358.6,240.3 368.9,272.0 379.2,281.0 389.4,285.9 399.7,290.0 410.0,292.4 420.2,285.3 430.5,287.6 440.8,291.2 451.1,317.0 461.3,340.2 471.6,354.0 481.9,356.1 492.1,361.4 502.4,372.0 512.7,376.2 522.9,380.5 533.2,379.4 543.5,375.2 553.8,381.5 564.0,382.2 574.3,384.7 584.6,359.3 594.8,331.8 605.1,311.8 615.4,310.8 625.6,319.0 635.9,318.0 646.2,313.2 656.5,304.7 666.7,289.8 677.0,288.5 687.3,291.8 697.5,302.1 707.8,305.3 718.1,316.4 728.3,321.3 738.6,335.8 748.9,328.1 759.2,313.5 769.4,305.8 779.7,316.4 790.0,331.9 800.2,332.9 810.5,329.0" stroke="#0000ff" stroke-width="2.9"/>
<polyline points="163.5,560.5 173.8,560.5 184.0,560.5 194.3,560.5 204.6,560.5 214.8,560.5 225.1,560.5 235.4,560.5 245.7,560.5 255.9,560.5 266.2,560.5 276.5,560.5 286.7,560.5 297.0,560.5 307.3,560.5 317.5,560.5 327.8,560.5 338.1,560.5 348.4,560.5 358.6,560.5 368.9,560.5 379.2,560.5 389.4,560.5 399.7,560.5 410.0,560.5 420.2,560.5 430.5,560.5 440.8,560.5 451.1,560.5 461.3,560.5 471.6,560.5 481.9,560.5 492.1,560.5 502.4,560.5 512.7,560.5 522.9,560.5 533.2,560.5 543.5,560.5 553.8,560.5 564.0,560.5 574.3,560.5 584.6,560.5 594.8,560.5 605.1,560.5 615.4,560.5 625.6,560.5 635.9,560.5 646.2,560.5 656.5,560.5 666.7,560.5 677.0,560.5 687.3,560.5 697.5,560.5 707.8,560.5 718.1,560.5 728.3,560.5 738.6,560.5 748.9,560.5 759.2,560.5 769.4,560.5 779.7,560.5 790.0,560.5 800.2,557.9 810.5,530.0" stroke="#0000ff" stroke-width="3.0"/>
<polyline points="163.5,223.2 173.8,216.2 184.0,228.4 194.3,232.0 204.6,235.0 214.8,238.4 225.1,235.7 235.4,229.3 245.7,225.6 255.9,221.8 266.2,218.1 276.5,216.2 286.7,219.9 297.0,226.2 307.3,231.2 317.5,233.9 327.8,235.4 338.1,239.8 348.4,246.7 358.6,254.2 368.9,263.3 379.2,266.0 389.4,269.4 399.7,273.0 410.0,278.5 420.2,285.0 430.5,295.0 440.8,298.5 451.1,300.2 461.3,306.0 471.6,314.5 481.9,321.0 492.1,324.7 502.4,327.3 512.7,330.1 522.9,330.3 533.2,333.9 543.5,335.3 553.8,336.6 564.0,331.1 574.3,328.6 584.6,327.5 594.8,325.9 605.1,320.0 615.4,314.9 625.6,311.2 635.9,314.3 646.2,310.2 656.5,308.2 666.7,307.6 677.0,308.1 687.3,308.3 697.5,309.4 707.8,313.3 718.1,313.2 728.3,308.7 738.6,308.4 748.9,308.4 759.2,308.4 769.4,306.5 779.7,306.6 790.0,308.5 800.2,312.9 810.5,315.9" stroke="#ffffff" stroke-width="2.8"/>
<polyline points="163.5,560.5 173.8,560.5 184.0,560.5 194.3,560.5 204.6,560.2 214.8,557.6 225.1,560.1 235.4,560.5 245.7,560.5 255.9,560.5 266.2,560.5 276.5,560.5 286.7,560.5 297.0,560.5 307.3,560.5 317.5,560.5 327.8,560.5 338.1,560.5 348.4,560.5 358.6,560.5 368.9,560.5 379.2,560.5 389.4,560.5 399.7,560.2 410.0,559.4 420.2,558.9 430.5,558.9 440.8,559.4 451.1,560.1 461.3,560.0 471.6,560.1 481.9,560.1 492.1,560.1 502.4,560.1 512.7,560.1 522.9,560.1 533.2,559.8 543.5,559.4 553.8,559.2 564.0,559.2 574.3,559.7 584.6,560.2 594.8,559.7 605.1,559.2 615.4,559.4 625.6,559.4 635.9,558.5 646.2,557.2 656.5,558.1 666.7,557.2 677.0,558.2 687.3,558.8 697.5,559.2 707.8,556.9 718.1,557.6 728.3,555.7 738.6,555.7 748.9,553.6 759.2,555.7 769.4,556.3 779.7,556.5 790.0,556.5 800.2,554.9 810.5,554.1" stroke="#ffffff" stroke-width="3.0"/>
<polyline points="163.5,221.5 173.8,217.4 184.0,229.1 194.3,239.1 204.6,241.5 214.8,240.9 225.1,238.5 235.4,229.1 245.7,228.5 255.9,229.4 266.2,219.1 276.5,217.9 286.7,212.1 297.0,212.1 307.3,224.4 317.5,244.4 327.8,258.5 338.1,270.3 348.4,274.0 358.6,277.2 368.9,283.7 379.2,294.1 389.4,297.6 399.7,299.4 410.0,294.1 420.2,290.0 430.5,295.3 440.8,305.0 451.1,309.4 461.3,310.9 471.6,302.9 481.9,290.8 492.1,285.5 502.4,285.5 512.7,285.2 522.9,281.5 533.2,280.0 543.5,276.2 553.8,267.2 564.0,258.0 574.3,259.8 584.6,267.2 594.8,279.7 605.1,285.3 615.4,290.0 625.6,290.8 635.9,290.9 646.2,284.2 656.5,280.1 666.7,275.6 677.0,275.6 687.3,277.5 697.5,273.6 707.8,269.9 718.1,261.3 728.3,258.4 738.6,260.3 748.9,266.1 759.2,269.0 769.4,269.0 779.7,266.1 790.0,263.2 800.2,262.3 810.5,252.6" stroke="#00dc00" stroke-width="3.0"/>
<polyline points="163.5,560.5 173.8,560.5 184.0,560.5 194.3,560.5 204.6,560.5 214.8,560.5 225.1,560.5 235.4,560.5 245.7,560.5 255.9,560.5 266.2,560.5 276.5,560.5 286.7,560.5 297.0,560.5 307.3,560.5 317.5,560.5 327.8,560.5 338.1,560.5 348.4,560.5 358.6,560.5 368.9,560.5 379.2,560.5 389.4,560.5 399.7,560.5 410.0,560.5 420.2,560.5 430.5,560.5 440.8,560.5 451.1,560.5 461.3,560.5 471.6,560.5 481.9,560.5 492.1,560.5 502.4,560.5 512.7,560.5 522.9,560.5 533.2,560.5 543.5,560.5 553.8,560.5 564.0,560.5 574.3,560.5 584.6,560.5 594.8,560.5 605.1,560.5 615.4,560.5 625.6,560.5 635.9,560.5 646.2,560.5 656.5,560.5 666.7,560.5 677.0,560.5 687.3,560.5 697.5,560.5 707.8,560.5 718.1,560.5 728.3,560.5 738.6,560.5 748.9,560.5 759.2,560.5 769.4,560.5 779.7,560.5 790.0,560.5 800.2,560.5 810.5,560.5" stroke="#00dc00" stroke-width="3.0"/>
</g>
<rect x="163.5" y="30.5" width="647.0" height="530.0" fill="none" stroke="#dcdcdc" stroke-width="1"/>
<path d="M807.0 547.50H810.5M805.0 534.50H810.5M807.0 520.50H810.5M805.0 507.50H810.5M807.0 494.50H810.5M805.0 481.50H810.5M807.0 467.50H810.5M805.0 454.50H810.5M807.0 441.50H810.5M805.0 428.50H810.5M807.0 414.50H810.5M805.0 401.50H810.5M807.0 388.50H810.5M805.0 375.50H810.5M807.0 361.50H810.5M805.0 348.50H810.5M807.0 335.50H810.5M805.0 322.50H810.5M807.0 308.50H810.5M805.0 295.50H810.5M807.0 282.50H810.5M805.0 269.50H810.5M807.0 255.50H810.5M805.0 242.50H810.5M807.0 229.50H810.5M805.0 216.50H810.5M807.0 202.50H810.5M805.0 189.50H810.5M807.0 176.50H810.5M805.0 163.50H810.5M807.0 149.50H810.5M805.0 136.50H810.5M807.0 123.50H810.5M805.0 110.50H810.5M807.0 96.50H810.5M805.0 83.50H810.5M807.0 70.50H810.5M805.0 57.50H810.5M807.0 43.50H810.5" stroke="#fff" stroke-width="1" fill="none"/>
<text x="435" y="16.6" text-anchor="middle" font-size="16" font-weight="bold" xml:space="preserve">Mosbach 74821 (DE)  850 hPa Temp. &amp; Niederschlag | Sun, 19Apr2020 12Z</text>
<text x="154" y="562.6" text-anchor="end" font-size="10.5">-30</text>
<text x="154" y="514.4" text-anchor="end" font-size="10.5">-25</text>
<text x="154" y="466.2" text-anchor="end" font-size="10.5">-20</text>
<text x="154" y="418.1" text-anchor="end" font-size="10.5">-15</text>
<text x="154" y="369.9" text-anchor="end" font-size="10.5">-10</text>
<text x="154" y="321.7" text-anchor="end" font-size="10.5">-5</text>
<text x="154" y="273.5" text-anchor="end" font-size="10.5">0</text>
<text x="154" y="225.3" text-anchor="end" font-size="10.5">5</text>
<text x="154" y="177.1" text-anchor="end" font-size="10.5">10</text>
<text x="154" y="129.0" text-anchor="end" font-size="10.5">15</text>
<text x="154" y="80.8" text-anchor="end" font-size="10.5">20</text>
<text x="154" y="32.6" text-anchor="end" font-size="10.5">25</text>
<text x="817.5" y="562.6" font-size="10.5">0</text>
<text x="817.5" y="430.1" font-size="10.5">10</text>
<text x="817.5" y="297.6" font-size="10.5">20</text>
<text x="817.5" y="165.1" font-size="10.5">30</text>
<text x="817.5" y="32.6" font-size="10.5">40</text>
<text x="162.4" y="576.6" text-anchor="middle" font-size="10.5">18Dec 18z</text>
<text x="244.6" y="576.6" text-anchor="middle" font-size="10.5">20Dec 18z</text>
<text x="326.7" y="576.6" text-anchor="middle" font-size="10.5">22Dec 18z</text>
<text x="408.9" y="576.6" text-anchor="middle" font-size="10.5">24Dec 18z</text>
<text x="491.0" y="576.6" text-anchor="middle" font-size="10.5">26Dec 18z</text>
<text x="573.2" y="576.6" text-anchor="middle" font-size="10.5">28Dec 18z</text>
<text x="655.4" y="576.6" text-anchor="middle" font-size="10.5">30Dec 18z</text>
<text x="737.5" y="576.6" text-anchor="middle" font-size="10.5">01Jan 18z</text>
<text x="486.2" y="592.5" text-anchor="middle" font-size="10.5">Date (UTC)</text>
<text transform="translate(135.2,296.3) rotate(-90)" text-anchor="middle" font-size="10.75">850 hPa Temp. (°C)</text>
<text transform="translate(843,296.6) rotate(-90)" text-anchor="middle" font-size="10.7">Niederschlag (mm)</text>
<text x="119.2" y="604" font-size="16">GFS Ensemble, 49.5N, 9E</text>
<text x="650" y="604" font-size="16">Wetterzentrale.de</text>
<line x1="0" x2="8" y1="41" y2="41" stroke="#0a1ee6" stroke-width="2"/>
<text x="8.6" y="43.1" font-size="10.5">P1</text>
<line x1="53" x2="64" y1="41" y2="41" stroke="#0055e6" stroke-width="2"/>
<text x="64.6" y="43.1" font-size="10.5">P2</text>
<line x1="0" x2="8" y1="56" y2="56" stroke="#0078e6" stroke-width="2"/>
<text x="8.6" y="58.1" font-size="10.5">P3</text>
<line x1="53" x2="64" y1="56" y2="56" stroke="#00a0dc" stroke-width="2"/>
<text x="64.6" y="58.1" font-size="10.5">P4</text>
<line x1="0" x2="8" y1="71" y2="71" stroke="#00bed2" stroke-width="2"/>
<text x="8.6" y="73.1" font-size="10.5">P5</text>
<line x1="53" x2="64" y1="71" y2="71" stroke="#00b98c" stroke-width="2"/>
<text x="64.6" y="73.1" font-size="10.5">P6</text>
<line x1="0" x2="8" y1="86" y2="86" stroke="#00b955" stroke-width="2"/>
<text x="8.6" y="88.1" font-size="10.5">P7</text>
<line x1="53" x2="64" y1="86" y2="86" stroke="#00be46" stroke-width="2"/>
<text x="64.6" y="88.1" font-size="10.5">P8</text>
<line x1="0" x2="8" y1="101" y2="101" stroke="#00c823" stroke-width="2"/>
<text x="8.6" y="103.1" font-size="10.5">P9</text>
<line x1="53" x2="64" y1="101" y2="101" stroke="#00dc00" stroke-width="2"/>
<text x="64.6" y="103.1" font-size="10.5">P10</text>
<line x1="0" x2="8" y1="116" y2="116" stroke="#dcdc00" stroke-width="2"/>
<text x="8.6" y="118.1" font-size="10.5">P11</text>
<line x1="53" x2="64" y1="116" y2="116" stroke="#dcbe00" stroke-width="2"/>
<text x="64.6" y="118.1" font-size="10.5">P12</text>
<line x1="0" x2="8" y1="131" y2="131" stroke="#dcaa00" stroke-width="2"/>
<text x="8.6" y="133.1" font-size="10.5">P13</text>
<line x1="53" x2="64" y1="131" y2="131" stroke="#e19600" stroke-width="2"/>
<text x="64.6" y="133.1" font-size="10.5">P14</text>
<line x1="0" x2="8" y1="146" y2="146" stroke="#e18200" stroke-width="2"/>
<text x="8.6" y="148.1" font-size="10.5">P15</text>
<line x1="53" x2="64" y1="146" y2="146" stroke="#dc730a" stroke-width="2"/>
<text x="64.6" y="148.1" font-size="10.5">P16</text>
<line x1="0" x2="8" y1="161" y2="161" stroke="#d76414" stroke-width="2"/>
<text x="8.6" y="163.1" font-size="10.5">P17</text>
<line x1="53" x2="64" y1="161" y2="161" stroke="#d24b23" stroke-width="2"/>
<text x="64.6" y="163.1" font-size="10.5">P18</text>
<line x1="0" x2="8" y1="176" y2="176" stroke="#ae2e2c" stroke-width="2"/>
<text x="8.6" y="178.1" font-size="10.5">P19</text>
<line x1="53" x2="64" y1="176" y2="176" stroke="#981a22" stroke-width="2"/>
<text x="64.6" y="178.1" font-size="10.5">P20</text>
<line x1="0" x2="8" y1="191" y2="191" stroke="#0a1ee6" stroke-width="2"/>
<text x="8.6" y="193.1" font-size="10.5">P21</text>
<line x1="53" x2="64" y1="191" y2="191" stroke="#0055e6" stroke-width="2"/>
<text x="64.6" y="193.1" font-size="10.5">P22</text>
<line x1="0" x2="8" y1="206" y2="206" stroke="#0078e6" stroke-width="2"/>
<text x="8.6" y="208.1" font-size="10.5">P23</text>
<line x1="53" x2="64" y1="206" y2="206" stroke="#00a0dc" stroke-width="2"/>
<text x="64.6" y="208.1" font-size="10.5">P24</text>
<line x1="0" x2="8" y1="221" y2="221" stroke="#00bed2" stroke-width="2"/>
<text x="8.6" y="223.1" font-size="10.5">P25</text>
<line x1="53" x2="64" y1="221" y2="221" stroke="#00b98c" stroke-width="2"/>
<text x="64.6" y="223.1" font-size="10.5">P26</text>
<line x1="0" x2="8" y1="236" y2="236" stroke="#00b955" stroke-width="2"/>
<text x="8.6" y="238.1" font-size="10.5">P27</text>
<line x1="53" x2="64" y1="236" y2="236" stroke="#00be46" stroke-width="2"/>
<text x="64.6" y="238.1" font-size="10.5">P28</text>
<line x1="0" x2="8" y1="251" y2="251" stroke="#00c823" stroke-width="2"/>
<text x="8.6" y="253.1" font-size="10.5">P29</text>
<line x1="53" x2="64" y1="251" y2="251" stroke="#00dc00" stroke-width="2"/>
<text x="64.6" y="253.1" font-size="10.5">P30</text>
<line x1="0" x2="8" y1="267" y2="267" stroke="#0000ff" stroke-width="2"/>
<text x="8.6" y="268.7" font-size="10.5">Control</text>
<line x1="53" x2="64" y1="267" y2="267" stroke="#ffffff" stroke-width="2.4"/>
<text x="64.6" y="268.7" font-size="10.5">Ens. mean</text>
<line x1="53" x2="64" y1="293" y2="293" stroke="#e6383e" stroke-width="2"/>
<text x="64.6" y="297.0" font-size="10.5">1991-2020</text>
<text x="64.6" y="307.2" font-size="10.5">mean</text>
<line x1="0" x2="8" y1="307" y2="307" stroke="#00dc00" stroke-width="2"/>
<text x="8.6" y="308.7" font-size="10.5">Oper</text>
</svg>
</body></html>
